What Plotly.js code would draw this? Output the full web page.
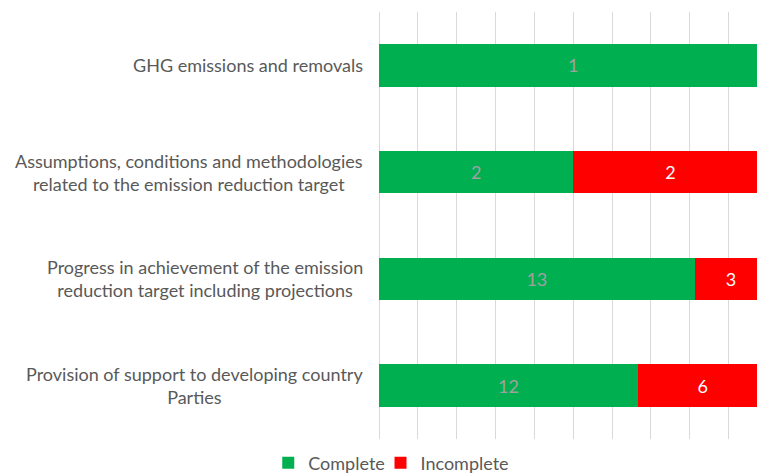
<!DOCTYPE html>
<html>
<head>
<meta charset="utf-8">
<script src="https://cdn.plot.ly/plotly-3.0.1.min.js"></script>
<style>html,body{margin:0;padding:0;background:#fff;}#chart{width:757px;height:473px;}</style>
</head>
<body>
<div id="chart"></div>
<script>
const categories = [
  "GHG emissions and removals",
  "Assumptions, conditions and methodologies<br>related to the emission reduction target",
  "Progress in achievement of the emission<br>reduction target including projections",
  "Provision of support to developing country<br>Parties"
];
const complete = [1, 2, 13, 12];
const incomplete = [0, 2, 3, 6];
const seriesNames = ["Complete", "Incomplete"];

const FONT = "Lato, 'Open Sans', sans-serif";
const lbl = v => v.map(n => n === 0 ? "" : String(n));

const traces = [
  {type: "bar", orientation: "h", name: seriesNames[0], y: categories, x: complete,
   marker: {color: "#00b050"}, text: lbl(complete), textposition: "inside",
   insidetextanchor: "middle", textangle: 0, constraintext: "none", legend: "legend",
   textfont: {family: FONT, size: 18, color: "#a0a0a0"}, hoverinfo: "none"},
  {type: "bar", orientation: "h", name: seriesNames[1], y: categories, x: incomplete,
   marker: {color: "#ff0000"}, text: lbl(incomplete), textposition: "inside",
   insidetextanchor: "middle", textangle: 0, constraintext: "none", legend: "legend2",
   textfont: {family: FONT, size: 18, color: "#ffffff"}, hoverinfo: "none"}
];

const annotations = categories.map(c => ({
  xref: "paper", yref: "y", x: -0.038, y: c, text: c, showarrow: false,
  xanchor: "right", yanchor: "middle", align: "center",
  font: {family: FONT, size: 18, color: "#595959"}
}));

const legendBase = {orientation: "h", xanchor: "left", yref: "container", y: 0.06, yanchor: "top",
  font: {family: FONT, size: 18, color: "#595959"}, itemwidth: 30, bgcolor: "rgba(0,0,0,0)"};

const layout = {
  width: 757, height: 473,
  margin: {l: 379, r: 0, t: 12, b: 34},
  paper_bgcolor: "#ffffff", plot_bgcolor: "#ffffff",
  barmode: "stack", barnorm: "fraction", bargap: 0.6,
  font: {family: FONT, size: 18, color: "#595959"},
  xaxis: {range: [0, 0.973], dtick: 0.1, tick0: 0, showgrid: true, gridcolor: "#d9d9d9",
          gridwidth: 1, showticklabels: false, zeroline: true, zerolinecolor: "#d9d9d9",
          zerolinewidth: 1, showline: false, ticks: "", fixedrange: true},
  yaxis: {autorange: "reversed", showticklabels: false, showgrid: false, zeroline: false,
          showline: false, ticks: "", fixedrange: true},
  showlegend: true,
  legend: Object.assign({}, legendBase, {x: -0.293}),
  legend2: Object.assign({}, legendBase, {x: 0.004}),
  annotations: annotations
};

Plotly.newPlot("chart", traces, layout, {displayModeBar: false, staticPlot: true});
</script>
</body>
</html>
